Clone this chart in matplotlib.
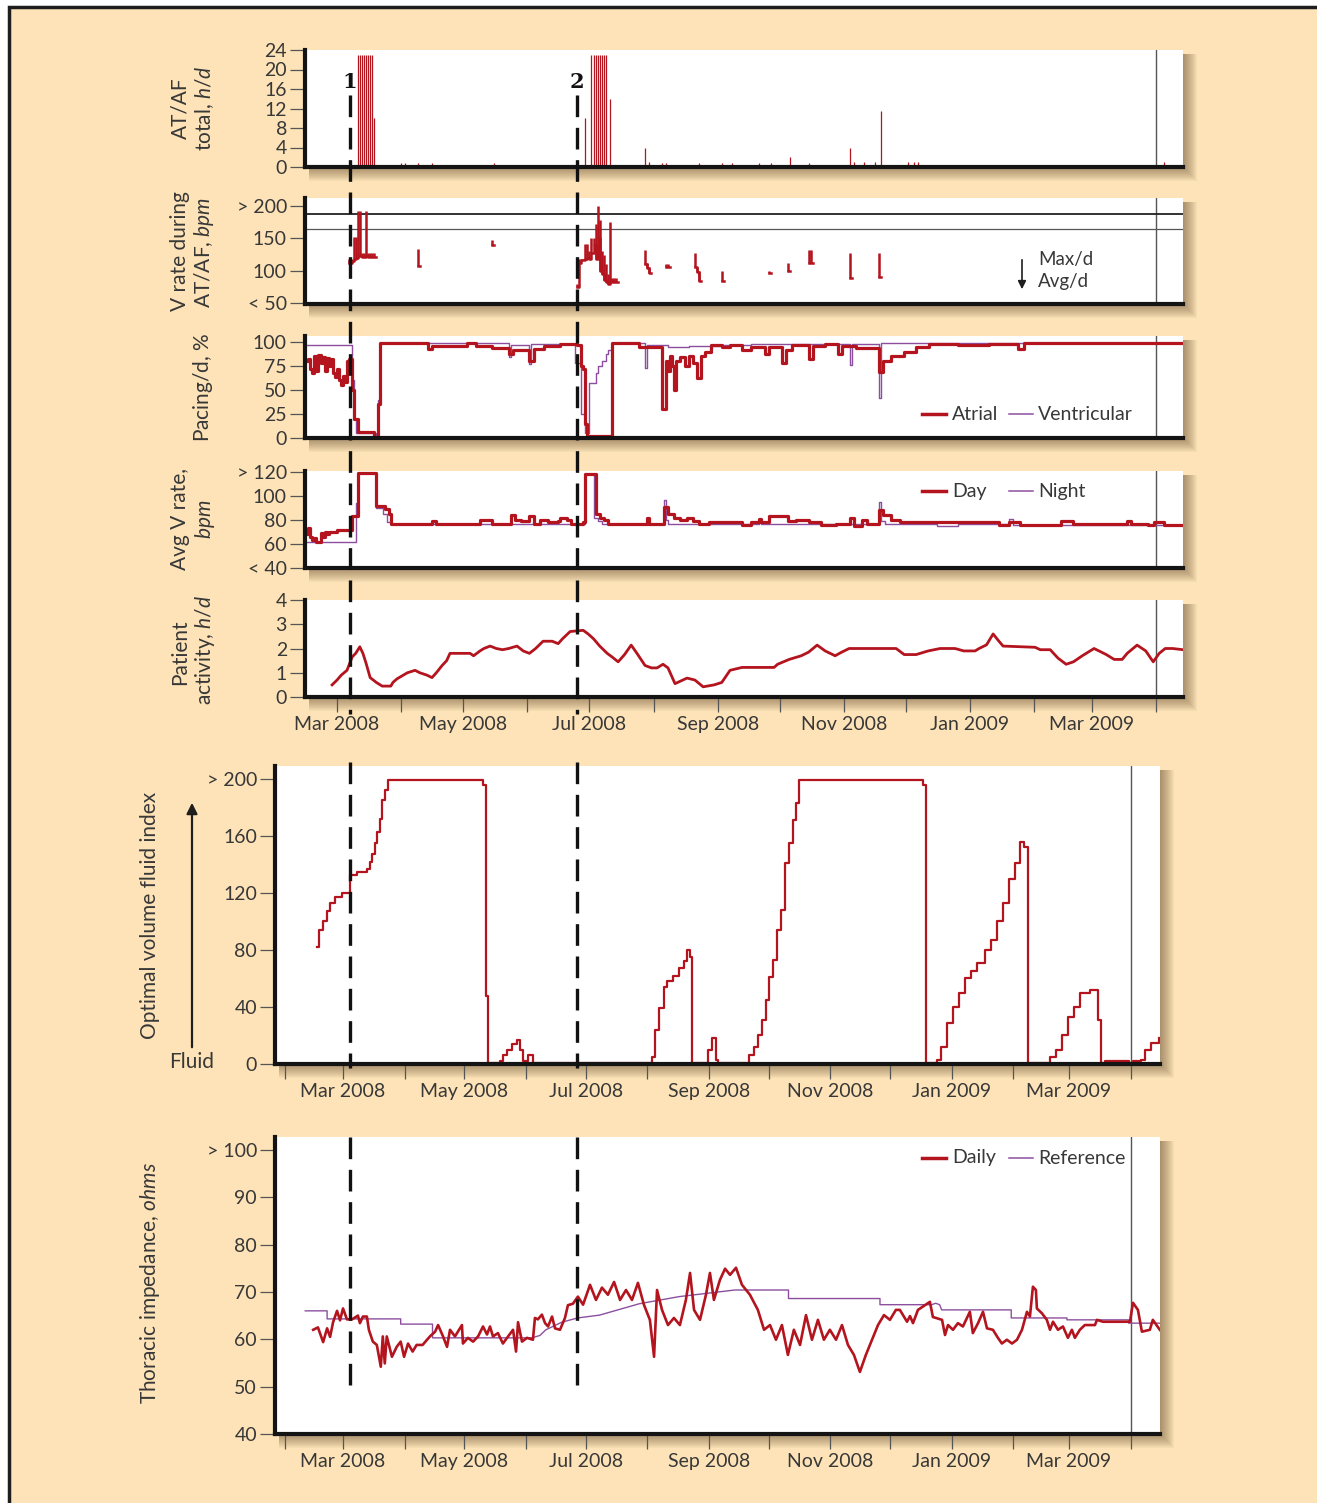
import datetime as dt
import numpy as np
import matplotlib
matplotlib.use("Agg")
import matplotlib.pyplot as plt
import matplotlib.dates as mdates
from matplotlib.patches import Rectangle, FancyArrowPatch
from matplotlib.lines import Line2D
from matplotlib.ticker import FuncFormatter

plt.rcParams["font.family"] = ["Lato", "DejaVu Sans"]
plt.rcParams["mathtext.fontset"] = "custom"
plt.rcParams["mathtext.rm"] = "Lato"
plt.rcParams["mathtext.it"] = "Lato:italic"

nan = float("nan")

# ---- data (x = days after 1 Mar 2008) ----
# AT/AF total, h/d
af_days = [10, 11, 12, 13, 14, 15, 16, 17, 18, 31, 33, 39, 46, 76,
           120, 123, 124, 125, 126, 127, 128, 129, 130, 132,
           149, 151, 157, 159, 175, 186, 191, 204, 210, 219, 228,
           248, 250, 255, 260, 263, 276, 279, 281, 400]
af_hours = [23, 23, 23, 23, 23, 23, 23, 23, 10, 0.8, 0.8, 0.8, 0.8, 0.8,
            10, 23, 23, 23, 23, 23, 23, 23, 23, 14,
            4, 1, 0.8, 0.8, 0.8, 0.8, 0.8, 0.8, 0.8, 2, 0.8,
            4, 1, 1, 1, 11.5, 1, 1, 1, 1]

# V rate during AT/AF (day, max/d, avg/d); nan rows split the episodes
vrate = [(6, 118, 112), (7, 118, 115), (8, 152, 118), (9, 152, 120), (10, 192, 122),
         (11, 192, 122), (12, 128, 121), (13, 128, 121), (14, 192, 122), (15, 128, 121),
         (16, 128, 121), (17, 128, 121), (18, 128, 121), (19, nan, 121), (nan, nan, nan),
         (39, 133, 107), (40, nan, 107), (nan, nan, nan),
         (75, 147, 140), (76, nan, 140), (nan, nan, nan),
         (116, 80, 75), (117, 118, 112), (118, 118, 116), (119, 118, 116), (120, 142, 118),
         (121, 142, 120), (122, 130, 118), (123, 150, 128), (124, 150, 140), (125, 172, 118),
         (126, 200, 150), (127, 178, 100), (128, 130, 95), (129, 125, 85), (130, 110, 82),
         (131, 95, 80), (132, 176, 85), (133, 88, 82), (134, 88, 82), (135, 88, 82),
         (136, nan, 82), (nan, nan, nan),
         (149, 132, 110), (150, 112, 104), (151, 105, 96), (152, nan, 96), (nan, nan, nan),
         (159, 110, 106), (160, 110, 106), (161, nan, 106), (nan, nan, nan),
         (173, 128, 105), (174, 105, 98), (175, 100, 84), (176, nan, 84), (nan, nan, nan),
         (186, 100, 84), (187, nan, 84), (nan, nan, nan),
         (209, 100, 96), (210, nan, 96), (nan, nan, nan),
         (218, 112, 100), (219, nan, 100), (nan, nan, nan),
         (228, 132, 112), (229, 132, 112), (230, nan, 112), (nan, nan, nan),
         (248, 128, 88), (249, nan, 88), (nan, nan, nan),
         (262, 127, 90), (263, nan, 90)]

# Pacing/d, %
atrial = [(-15, 80), (-14, 82), (-13, 72), (-12, 68), (-11, 85), (-10, 70), (-9, 86),
          (-8, 78), (-7, 84), (-6, 70), (-5, 83), (-4, 75), (-3, 82), (-2, 68), (-1, 64),
          (0, 72), (1, 60), (2, 55), (3, 65), (4, 58), (5, 80), (6, 82), (7, 50), (8, 20),
          (10, 6), (18, 1), (20, 35), (21, 99), (44, 93), (46, 96), (63, 99), (67, 96),
          (75, 94), (80, 94), (83, 88), (85, 92), (93, 80), (95, 93), (100, 96), (108, 98),
          (116, 97), (118, 75), (119, 72), (120, 15), (121, 2), (133, 99), (146, 95),
          (157, 30), (159, 80), (160, 70), (161, 85), (162, 75), (163, 50), (164, 80),
          (166, 84), (168, 75), (170, 85), (172, 78), (174, 62), (176, 85), (178, 90),
          (181, 97), (186, 95), (190, 97), (196, 92), (200, 95), (207, 88), (209, 95),
          (215, 78), (217, 92), (220, 97), (228, 82), (230, 96), (236, 98), (242, 87),
          (244, 96), (251, 94), (262, 69), (264, 80), (268, 85), (274, 90), (280, 95),
          (286, 98), (300, 97), (315, 98), (329, 93), (332, 99), (410, 99)]
ventricular = [(-16, 97), (6, 97), (7, 60), (8, 20), (9, 5), (19, 1), (20, 40), (21, 99),
               (83, 84), (84, 97), (93, 77), (94, 98), (115, 78), (118, 25), (120, 5),
               (122, 57), (125, 68), (126, 75), (128, 80), (130, 88), (131, 92), (133, 99),
               (149, 73), (150, 97), (160, 95), (170, 96), (185, 97), (200, 98), (248, 76),
               (249, 98), (262, 42), (263, 99), (410, 99)]

# Avg V rate, bpm
day_rate = [(-15, 68), (-14, 73), (-13, 66), (-12, 63), (-11, 65), (-10, 62), (-9, 62),
            (-8, 69), (-7, 66), (-6, 70), (-5, 68), (-4, 70), (0, 72), (7, 83), (10, 119),
            (19, 92), (23, 89), (25, 85), (26, 77), (46, 79), (48, 77), (69, 80), (75, 77),
            (84, 84), (86, 80), (89, 79), (93, 83), (95, 77), (98, 80), (102, 78), (107, 79),
            (108, 82), (111, 80), (113, 77), (119, 78), (120, 118), (125, 85), (127, 82),
            (129, 80), (131, 77), (150, 82), (151, 77), (158, 91), (160, 85), (163, 82),
            (166, 80), (169, 82), (172, 79), (175, 77), (180, 78), (196, 76), (200, 78),
            (204, 81), (205, 78), (209, 83), (218, 79), (222, 80), (228, 78), (234, 76),
            (241, 77), (248, 82), (250, 75), (254, 80), (256, 77), (262, 88), (264, 84),
            (268, 80), (272, 78), (320, 76), (325, 78), (330, 76), (350, 79), (356, 77),
            (382, 79), (384, 77), (392, 76), (395, 78), (400, 76), (410, 76)]
night_rate = [(-16, 62), (8, 62), (9, 94), (10, 119), (19, 90), (22, 85), (24, 78),
              (26, 77), (120, 118), (124, 82), (126, 79), (128, 77), (157, 77), (158, 97),
              (159, 80), (160, 77), (204, 80), (205, 77), (262, 95), (263, 79), (265, 77),
              (290, 75), (300, 77), (325, 81), (327, 76), (410, 76)]

# Patient activity, h/d
activity = [(-2.4, 0.5), (0, 0.7), (2, 0.9), (4.8, 1.1), (7.3, 1.65), (9, 1.8), (11, 2.07),
            (12.5, 1.8), (14, 1.4), (16, 0.8), (19, 0.6), (21.8, 0.45), (26, 0.45), (27, 0.6),
            (29, 0.75), (32, 0.9), (34, 1.0), (37.7, 1.1), (40, 1.0), (43.5, 0.9), (45.9, 0.8),
            (48, 1.0), (50.8, 1.3), (53, 1.5), (54.6, 1.8), (64.3, 1.8), (66, 1.7), (69.1, 1.9),
            (71, 2.0), (74, 2.1), (77, 2.0), (80, 1.95), (83, 2.0), (87, 2.1), (90, 1.9),
            (93, 1.8), (96, 2.0), (99.6, 2.3), (104, 2.3), (106.9, 2.2), (109, 2.4),
            (112.7, 2.7), (119, 2.75), (121.4, 2.6), (124, 2.4), (127, 2.1), (130.6, 1.8),
            (133, 1.65), (135.9, 1.45), (139, 1.75), (142.2, 2.14), (145, 1.8), (148.9, 1.3),
            (152, 1.2), (154.7, 1.2), (157.6, 1.35), (160, 1.2), (163.4, 0.55), (169.2, 0.78),
            (173, 0.7), (177, 0.42), (182.3, 0.5), (186, 0.6), (190, 1.1), (195.8, 1.22),
            (211.3, 1.22), (213, 1.35), (218.6, 1.55), (224.4, 1.7), (228, 1.85), (232.1, 2.14),
            (236, 1.9), (240.8, 1.7), (244, 1.85), (247.6, 2.0), (270.3, 2.0), (274.2, 1.75),
            (280, 1.75), (285.8, 1.9), (291.6, 2.0), (298.8, 2.0), (303, 1.9), (308.5, 1.9),
            (310.4, 2.0), (314, 2.15), (317.2, 2.6), (320, 2.3), (322, 2.1), (337.5, 2.05),
            (340, 1.95), (344.8, 1.95), (348.6, 1.6), (352.5, 1.35), (356, 1.45), (360.3, 1.7),
            (366, 2.0), (371.9, 1.75), (375.7, 1.55), (379.6, 1.55), (382, 1.8), (386.8, 2.14),
            (391, 1.9), (394.6, 1.45), (397.5, 1.8), (400.4, 2.0), (404, 2.0), (409, 1.95)]

# OptiVol fluid index
fluid = [(-13, 82), (-12, 94), (-10, 100), (-8, 107), (-6.5, 113), (-4, 117), (-0.5, 120),
         (3.5, 132.6), (7, 135), (12, 137), (13.6, 142), (14.6, 147), (16, 155), (17, 163),
         (18.6, 172), (19.6, 185), (21, 192), (22.6, 199), (70.4, 196), (72, 48), (73, 1),
         (79, 2), (80.4, 6), (82.5, 10), (85, 14), (87.5, 17), (89, 10), (90.5, 2), (93, 6),
         (95.5, 1), (155.4, 5), (156.9, 24), (158.9, 39), (161.4, 54), (162.9, 58),
         (165.9, 62), (168.9, 67), (171.4, 72), (172.9, 80), (174.5, 75), (175.5, 0.5),
         (183.5, 10), (185.5, 18), (187.5, 3), (188.5, 0.5), (204.1, 6), (206.6, 12),
         (208.6, 20), (210.7, 31), (212.7, 45), (214.2, 61), (216.2, 73), (218.2, 94),
         (220.2, 108), (222.2, 141), (224.2, 155), (226.2, 171), (227.8, 183), (229.3, 199),
         (291.6, 196), (293.1, 0.5), (298.6, 3), (300.7, 12), (303.7, 29), (306.7, 40),
         (309.7, 50), (312.7, 60), (315.7, 65), (318.8, 71), (322.8, 80), (325.8, 87),
         (328.8, 100), (331.8, 113), (334.8, 130), (337.9, 141), (340.4, 156), (342.4, 152),
         (344.4, 0.5), (355.5, 5), (358.5, 10), (361.5, 20), (364.5, 33), (367.5, 40),
         (370.5, 50), (375.6, 52), (379.6, 31), (381.1, 0.5), (383, 2), (395.2, 1),
         (397.2, 2), (401.2, 3), (403.2, 10), (406.2, 15), (410.2, 18)]

# Thoracic impedance, ohms
daily_imp = [(-15, 62), (-12.6, 62.5), (-10, 59.4), (-8, 62.3), (-6.5, 60.5), (-5, 63.6),
             (-3, 66), (-1.5, 64), (0, 66.5), (2, 64.2), (4.5, 64.2), (7.5, 65), (8.5, 63.4),
             (10, 64.8), (12, 64.8), (13, 62), (15, 59.5), (17, 58.8), (19, 54.2), (20, 60.6),
             (21, 54.9), (22, 60.6), (24.6, 56.3), (27, 58.4), (29, 59.5), (30.7, 56.3),
             (32.7, 59.1), (35, 57.4), (37, 58.8), (40, 58.8), (43.7, 60.6), (46.3, 61.6),
             (47.8, 63), (50.3, 60.6), (52.3, 58.4), (53.8, 62), (56.3, 60.6), (59.8, 63),
             (60.3, 59.1), (62.8, 60.3), (65.4, 59.5), (67.9, 60.6), (70.4, 62.7), (72.4, 61),
             (73.9, 62.7), (75.4, 60.6), (77.9, 61.3), (80.4, 59.1), (83, 60.6), (85.5, 62),
             (87, 57.4), (88, 63.6), (90, 59.5), (92.5, 60.3), (95.5, 59.9), (96.5, 64.5),
             (98, 64.2), (100, 65.2), (101.6, 63.4), (103.1, 62.7), (105.1, 64.8),
             (106.6, 62.3), (109.1, 62), (111.6, 64.5), (113.1, 67.2), (115.6, 67.5),
             (118.1, 69), (120.7, 67.3), (124.2, 71.5), (127.2, 68.3), (130.2, 70.9),
             (133.2, 69.4), (136.3, 72.1), (139.3, 68.3), (142.3, 70.4), (145.3, 68.3),
             (148.3, 71.9), (151.3, 67.3), (154.3, 64.1), (156.4, 56.3), (157.9, 70.4),
             (160.4, 66.2), (163.4, 63), (166.4, 64.5), (169.4, 63), (172.4, 68.3),
             (174.5, 74), (176.5, 66.2), (179.5, 64.1), (182.5, 69.4), (184.5, 74),
             (186.5, 68.3), (189.5, 72.5), (192.1, 74.9), (194.6, 73.6), (197.6, 75.1),
             (200.6, 71.5), (204.6, 69.4), (208.6, 66.2), (211.7, 62), (214.7, 63),
             (217.7, 59.9), (220.7, 63), (223.7, 56.7), (226.7, 62), (229.8, 58.8),
             (232.8, 65.1), (235.8, 59.9), (238.8, 64.1), (241.8, 59.9), (244.8, 62),
             (247.9, 59.9), (250.9, 63), (253.9, 58.8), (256.9, 56.7), (259.9, 53.1),
             (262.9, 56.7), (266, 59.9), (269, 63), (272, 65.1), (275, 64.1), (278, 66.2),
             (280, 66.2), (283.6, 63.7), (285.1, 64.9), (286.6, 63.4), (289.1, 66.2),
             (291.6, 66.9), (295.1, 67.9), (296.6, 64.7), (301.2, 64.1), (302.7, 60.9),
             (304.2, 63), (306.7, 62), (309.2, 63.4), (311.7, 62.7), (315.2, 65.8),
             (316.7, 61.3), (319.3, 63.4), (321.8, 65.8), (323.8, 62.3), (326.8, 62),
             (329.3, 60.3), (331.3, 59.1), (333.8, 59.9), (336.4, 59.1), (338.9, 59.9),
             (341.4, 62), (343.9, 65.8), (345.4, 64.8), (346.9, 71.1), (348.4, 70.4),
             (348.9, 66.5), (351.4, 65.5), (353.9, 64.1), (355.5, 62), (357, 63.7),
             (359.5, 62), (362, 62.7), (364.5, 60.3), (366.5, 62), (368, 60.3), (370.5, 62),
             (373, 63), (378.1, 63), (379.1, 64.1), (382.1, 63.7), (395.7, 63.7),
             (397.2, 67.7), (399.7, 66.2), (401.7, 61.6), (405.7, 62), (407.2, 64.1),
             (410.7, 62)]
reference_imp = [(-19, 66), (-8, 66), (-8, 64.3), (29, 64.3), (29, 63.2), (45, 63.2),
                 (45, 60.3), (95, 60.3), (99, 60.8), (102, 62), (110, 63.6), (118, 64.5),
                 (129, 65.1), (149, 67.5), (169, 69), (197, 70.4), (224, 70.4), (224, 68.6),
                 (270, 68.6), (270, 67.3), (296, 67.3), (298, 67.6), (300, 67.3), (301, 66.2),
                 (336, 66.2), (336, 64.5), (364, 64.5), (364, 64.1), (395, 64.1), (395, 63.4),
                 (411, 63.4)]

event_days = [6, 116]   # dashed markers 1 and 2
marker_day = 396        # thin line, 1 Apr 2009

# ---- styling ----
W, H = 1317, 1503
RED = "#b3141e"
PURPLE = "#8c4f9f"
TAN = "#fde3b7"
INK = "#383838"
START = mdates.date2num(dt.datetime(2008, 3, 1))


def X(days):
    return START + np.asarray(days, dtype=float)


fig = plt.figure(figsize=(W / 100, H / 100), dpi=100)
fig.patch.set_facecolor("white")
fig.add_artist(Rectangle((9 / W, -0.01), 1.0, 1 - 7 / H + 0.01, transform=fig.transFigure,
                         facecolor=TAN, edgecolor="#1e1e1e", lw=2.5, zorder=-3))


def ftext(x, y, s, **kw):
    opts = dict(ha="center", va="center", color=INK, fontsize=15)
    opts.update(kw)
    fig.text(x / W, 1 - y / H, s, **opts)


def month_fmt(x, pos):
    d = mdates.num2date(x)
    return d.strftime("%b %Y") if d.month % 2 == 1 else ""


def panel(box, xr, ylim, yticks, ylabels):
    l, t, r, b = box
    for i in range(1, 15):
        fig.add_artist(Rectangle(((l + 4) / W, 1 - (b + i) / H), (r + i - l - 4) / W,
                                 (b + i - t - 4) / H, transform=fig.transFigure,
                                 facecolor="#4a3418", edgecolor="none", alpha=0.04, zorder=-1))
    ax = fig.add_axes([l / W, 1 - b / H, (r - l) / W, (b - t) / H])
    ax.set_facecolor("white")
    ax.set_xlim(START + xr[0], START + xr[1])
    ax.set_ylim(*ylim)
    for s in ("top", "right"):
        ax.spines[s].set_visible(False)
    for s in ("left", "bottom"):
        ax.spines[s].set_linewidth(3)
        ax.spines[s].set_color("#141414")
    ax.set_yticks(yticks)
    ax.set_yticklabels(ylabels)
    ax.tick_params(axis="y", direction="out", length=11, width=0.9, color="#555555",
                   pad=2, labelsize=14, labelcolor=INK)
    ax.tick_params(axis="x", bottom=False, labelbottom=False)
    ax.axvline(START + marker_day, color="#555555", lw=1, zorder=1)
    return ax


def month_axis(ax):
    ax.xaxis.set_major_locator(mdates.MonthLocator())
    ax.xaxis.set_major_formatter(FuncFormatter(month_fmt))
    ax.tick_params(axis="x", bottom=True, labelbottom=True, direction="out", length=11,
                   width=0.9, color="#555555", pad=3, labelsize=14, labelcolor=INK)


top_x = (-15.5, 409)
bot_x = (-34.2, 410.8)

# 1: AT/AF total
ax1 = panel((305, 50, 1183, 167), top_x, (0, 24), range(0, 25, 4),
            [str(v) for v in range(0, 25, 4)])
ax1.vlines(X(af_days), 0, af_hours, color=RED, lw=0.9)

# 2: V rate during AT/AF (vertical max-to-avg strokes, avg as steps)
ax2 = panel((305, 198, 1183, 304), top_x, (48.5, 212.4), [50, 100, 150, 200],
            ["< 50", "100", "150", "> 200"])
ax2.axhline(188, color="#222222", lw=1.3)
ax2.axhline(165, color="#555555", lw=0.9)
vr = np.array(vrate, dtype=float)
ax2.step(X(vr[:, 0]), vr[:, 2], where="post", color=RED, lw=1.8)
ok = ~np.isnan(vr[:, 1])
ax2.vlines(X(vr[ok, 0]), vr[ok, 2], vr[ok, 1], color=RED, lw=1.8)

# 3: pacing
ax3 = panel((305, 336, 1183, 438), top_x, (0, 106.25), [0, 25, 50, 75, 100],
            ["0", "25", "50", "75", "100"])
vd, vv = zip(*ventricular)
ad, av = zip(*atrial)
ax3.step(X(vd), vv, where="post", color=PURPLE, lw=1.0)
ax3.step(X(ad), av, where="post", color=RED, lw=2.3)

# 4: avg V rate
ax4 = panel((305, 471, 1183, 568), top_x, (40, 120.8), [40, 60, 80, 100, 120],
            ["< 40", "60", "80", "100", "> 120"])
nd, nv = zip(*night_rate)
dd, dv = zip(*day_rate)
ax4.step(X(nd), nv, where="post", color=PURPLE, lw=1.0)
ax4.step(X(dd), dv, where="post", color=RED, lw=2.3)

# 5: activity
ax5 = panel((305, 600, 1183, 697), top_x, (0, 4), [0, 1, 2, 3, 4],
            ["0", "1", "2", "3", "4"])
acd, acv = zip(*activity)
ax5.plot(X(acd), acv, color=RED, lw=2.0)
month_axis(ax5)

# 6: fluid index
ax6 = panel((275, 766, 1160, 1064), bot_x, (0, 209), [0, 40, 80, 120, 160, 200],
            ["0", "40", "80", "120", "160", "> 200"])
fd, fv = zip(*fluid)
ax6.step(X(fd), fv, where="post", color=RED, lw=1.6)
month_axis(ax6)

# 7: thoracic impedance
ax7 = panel((275, 1137, 1160, 1434), bot_x, (40, 102.7), list(range(40, 101, 10)),
            ["40", "50", "60", "70", "80", "90", "> 100"])
rd, rv = zip(*reference_imp)
idd, idv = zip(*daily_imp)
ax7.plot(X(rd), rv, color=PURPLE, lw=1.0)
ax7.plot(X(idd), idv, color=RED, lw=1.9)
month_axis(ax7)

# dashed event lines across the panels
for xp in (350, 577):
    for y0, y1 in ((95, 714), (762, 1068), (1137, 1392)):
        fig.add_artist(Line2D([xp / W, xp / W], [1 - y0 / H, 1 - y1 / H],
                              transform=fig.transFigure, color="#111111", lw=2.4,
                              dashes=(6.5, 3.2), zorder=5))
ftext(350, 82, "1", fontfamily="DejaVu Serif", fontweight="bold", fontsize=15, color="#111111")
ftext(577, 82, "2", fontfamily="DejaVu Serif", fontweight="bold", fontsize=15, color="#111111")

# axis titles
ftext(180, 108, "AT/AF", rotation=90)
ftext(205, 108, "total, $\\mathit{h/d}$", rotation=90)
ftext(180, 251, "V rate during", rotation=90)
ftext(204, 252, "AT/AF, $\\mathit{bpm}$", rotation=90)
ftext(203, 387, "Pacing/d, $\\mathit{\\%}$", rotation=90)
ftext(180, 519, "Avg V rate,", rotation=90)
ftext(205, 519, "$\\mathit{bpm}$", rotation=90)
ftext(180, 652, "Patient", rotation=90)
ftext(205, 650, "activity, $\\mathit{h/d}$", rotation=90)
ftext(150, 915, "Optimal volume fluid index", rotation=90)
ftext(150, 1283, "Thoracic impedance, $\\mathit{ohms}$", rotation=90)
ftext(192, 1062, "Fluid")
fig.add_artist(FancyArrowPatch((192 / W, 1 - 1050 / H), (192 / W, 1 - 800 / H),
                               transform=fig.transFigure, arrowstyle="-|>",
                               mutation_scale=16, lw=1.6, color="#1e1e1e", zorder=6))

# legends
fig.add_artist(FancyArrowPatch((1022 / W, 1 - 257 / H), (1022 / W, 1 - 292 / H),
                               transform=fig.transFigure, arrowstyle="-|>",
                               mutation_scale=12, lw=1.2, color="#1e1e1e", zorder=6))
ftext(1038, 260, "Max/d", ha="left", fontsize=13.5)
ftext(1038, 282, "Avg/d", ha="left", fontsize=13.5)


def legend_pair(y, lab1, lab2):
    fig.add_artist(Line2D([922 / W, 946 / W], [1 - y / H] * 2, transform=fig.transFigure,
                          color=RED, lw=2.5, zorder=6))
    ftext(952, y, lab1, ha="left", fontsize=14)
    fig.add_artist(Line2D([1009 / W, 1033 / W], [1 - y / H] * 2, transform=fig.transFigure,
                          color=PURPLE, lw=1.1, zorder=6))
    ftext(1038, y, lab2, ha="left", fontsize=14)


legend_pair(414, "Atrial", "Ventricular")
legend_pair(491, "Day", "Night")
legend_pair(1158, "Daily", "Reference")

fig.savefig("out.png", dpi=100, facecolor="white")
